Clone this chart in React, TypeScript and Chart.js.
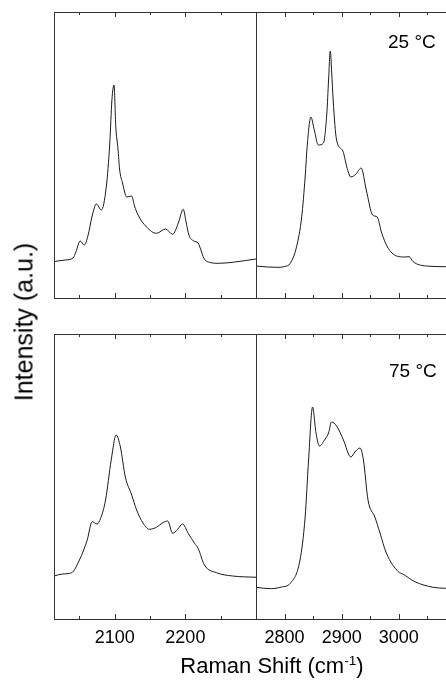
import React, { useEffect, useRef } from 'react';
import { Chart, registerables } from 'chart.js';

Chart.register(...registerables);

const FONT = '"Liberation Sans", Arial, Helvetica, sans-serif';

// ---- data ----
const lowRange = [2014, 2300];
const highRange = [2750, 3100];
const lowTicks = [2050, 2100, 2150, 2200, 2250];
const highTicks = [2800, 2850, 2900, 2950, 3000, 3050];
const tempLabels = ['25 °C', '75 °C'];

const shift25Low = [2014, 2030, 2041, 2045, 2051, 2057, 2062, 2068, 2074, 2081, 2088, 2093, 2096, 2099, 2101.5, 2104.5, 2107, 2111, 2117, 2124, 2128, 2133, 2145, 2159, 2172, 2182, 2190, 2197, 2201, 2205, 2212, 2218, 2222, 2226, 2235, 2248, 2270, 2300];
const int25Low = [36.5, 38, 40, 46, 57, 53, 62, 82, 94, 88, 111, 155, 198, 213, 171, 150, 128, 115, 101, 102, 92, 83, 71, 64.7, 69, 63.7, 75, 88.7, 76, 63, 57, 55, 48, 40, 35.5, 34.7, 36, 39];

const shift25High = [2750, 2770, 2787, 2800, 2810, 2821, 2830, 2836, 2840, 2846, 2852, 2859, 2868, 2874, 2877, 2880, 2882.5, 2885, 2891, 2902, 2909, 2916, 2925, 2934, 2943, 2954, 2962, 2970, 2980, 2996, 3010, 3018, 3025, 3048, 3082, 3100];
const int25High = [32, 31, 30.7, 31.5, 34.7, 51.3, 81.3, 121, 155, 181, 168, 153, 155, 185, 218, 247, 225, 198, 158, 147, 131, 121, 124, 130, 108, 83, 81, 65, 51, 42, 41, 41.3, 36.3, 32, 31.3, 31];

const shift75Low = [2014, 2026, 2039, 2050, 2061, 2068, 2075, 2080, 2087, 2095, 2102, 2108, 2115, 2124, 2131, 2140, 2149, 2159, 2168, 2175, 2182, 2189, 2196, 2204, 2213, 2218, 2227, 2244, 2267, 2300];
const int75Low = [43, 45, 46.3, 59, 79, 97.3, 95, 100.7, 119, 159, 184, 172, 142, 124, 109, 96, 89.7, 91.7, 96.3, 98, 85.7, 89.7, 95, 85.7, 75.7, 70.7, 54, 46.3, 43, 41.7];

const shift75High = [2750, 2775, 2795, 2810, 2827, 2836, 2842, 2849, 2855, 2861, 2871, 2877, 2882, 2891, 2903, 2916, 2923, 2932, 2938, 2946, 2958, 2967, 2978, 2999, 3007, 3028, 3060, 3082, 3100];
const int75High = [31.7, 30.3, 32, 35.7, 59, 102, 159, 212, 186, 173, 180, 186, 197, 193, 179, 162, 167, 171, 159, 119, 102, 86, 66, 47.3, 45, 37.3, 31.7, 30.7, 30.5];

// ---- layout ----
const CW = 470;
const CH = 682;

const framePlugin = {
  id: 'frame',
  afterDraw(chart: any, _args: any, opts: any) {
    const { ctx, chartArea: a } = chart;
    const x = chart.scales.x;
    ctx.save();
    ctx.strokeStyle = '#333';
    ctx.lineWidth = 1;
    ctx.strokeRect(a.left + 0.5, a.top + 0.5, a.right - a.left, a.bottom - a.top);
    ctx.beginPath();
    for (const v of opts.ticks || []) {
      const px = Math.round(x.getPixelForValue(v)) + 0.5;
      const len = v % 100 === 0 ? 5 : 3;
      ctx.moveTo(px, a.top);
      ctx.lineTo(px, a.top + len);
      ctx.moveTo(px, a.bottom);
      ctx.lineTo(px, a.bottom - len);
    }
    ctx.stroke();
    ctx.fillStyle = '#000';
    if (opts.showLabels) {
      ctx.font = `18px ${FONT}`;
      ctx.textAlign = 'center';
      ctx.textBaseline = 'alphabetic';
      for (const v of opts.ticks || []) {
        if (v % 100 !== 0) continue;
        ctx.fillText(String(v), x.getPixelForValue(v), a.bottom + 24);
      }
    }
    if (opts.label) {
      ctx.font = `19px ${FONT}`;
      ctx.textBaseline = 'alphabetic';
      ctx.textAlign = 'left';
      ctx.fillText(opts.label, opts.labelX, opts.labelY);
    }
    ctx.restore();
  },
};

type PanelProps = {
  xs: number[];
  ys: number[];
  range: number[];
  ticks: number[];
  area: { l: number; t: number; r: number; b: number };
  showLabels: boolean;
  label?: string;
  labelX?: number;
  labelY?: number;
};

function Panel({ xs, ys, range, ticks, area, showLabels, label, labelX, labelY }: PanelProps) {
  const ref = useRef<HTMLCanvasElement | null>(null);
  useEffect(() => {
    if (!ref.current) return;
    const chart = new Chart(ref.current, {
      type: 'line',
      data: {
        datasets: [
          {
            data: xs.map((x, i) => ({ x, y: ys[i] })),
            borderColor: '#1a1a1a',
            borderWidth: 1,
            pointRadius: 0,
            fill: false,
            cubicInterpolationMode: 'monotone',
          },
        ],
      },
      options: {
        responsive: false,
        maintainAspectRatio: false,
        animation: false,
        devicePixelRatio: 1,
        layout: {
          padding: { left: area.l, top: area.t, right: CW - area.r, bottom: CH - area.b },
        },
        plugins: {
          legend: { display: false },
          tooltip: { enabled: false },
          frame: { ticks, label, labelX, labelY, showLabels },
        } as any,
        scales: {
          x: {
            type: 'linear',
            min: range[0],
            max: range[1],
            display: false,
          },
          y: {
            type: 'linear',
            min: 0,
            max: area.b - area.t,
            display: false,
          },
        },
      },
      plugins: [framePlugin],
    } as any);
    return () => chart.destroy();
  }, []);
  return (
    <canvas
      ref={ref}
      width={CW}
      height={CH}
      style={{ position: 'absolute', left: 0, top: 0, width: CW, height: CH }}
    />
  );
}

export default function App() {
  const top = { t: 12, b: 298 };
  const bot = { t: 334, b: 619 };
  return (
    <div
      style={{
        position: 'fixed',
        left: 0,
        top: 0,
        width: 446,
        height: 682,
        overflow: 'hidden',
        background: '#fff',
      }}
    >
      <Panel xs={shift25Low} ys={int25Low} range={lowRange} ticks={lowTicks} area={{ l: 54, r: 256, ...top }} showLabels={false} />
      <Panel xs={shift25High} ys={int25High} range={highRange} ticks={highTicks} area={{ l: 256, r: 456, ...top }} showLabels={false} label={tempLabels[0]} labelX={388} labelY={48} />
      <Panel xs={shift75Low} ys={int75Low} range={lowRange} ticks={lowTicks} area={{ l: 54, r: 256, ...bot }} showLabels={true} />
      <Panel xs={shift75High} ys={int75High} range={highRange} ticks={highTicks} area={{ l: 256, r: 456, ...bot }} showLabels={true} label={tempLabels[1]} labelX={389} labelY={377} />
      <div
        style={{
          position: 'absolute',
          left: 24,
          top: 322,
          transform: 'translate(-50%, -50%) rotate(-90deg)',
          font: `25px ${FONT}`,
          lineHeight: '25px',
          whiteSpace: 'nowrap',
          color: '#000',
        }}
      >
        Intensity (a.u.)
      </div>
      <div
        style={{
          position: 'absolute',
          left: 272,
          top: 667,
          transform: 'translate(-50%, -50%)',
          font: `22px ${FONT}`,
          lineHeight: '22px',
          whiteSpace: 'nowrap',
          color: '#000',
        }}
      >
        Raman Shift (cm
        <span style={{ fontSize: '0.62em', position: 'relative', top: '-0.6em' }}>-1</span>)
      </div>
    </div>
  );
}
